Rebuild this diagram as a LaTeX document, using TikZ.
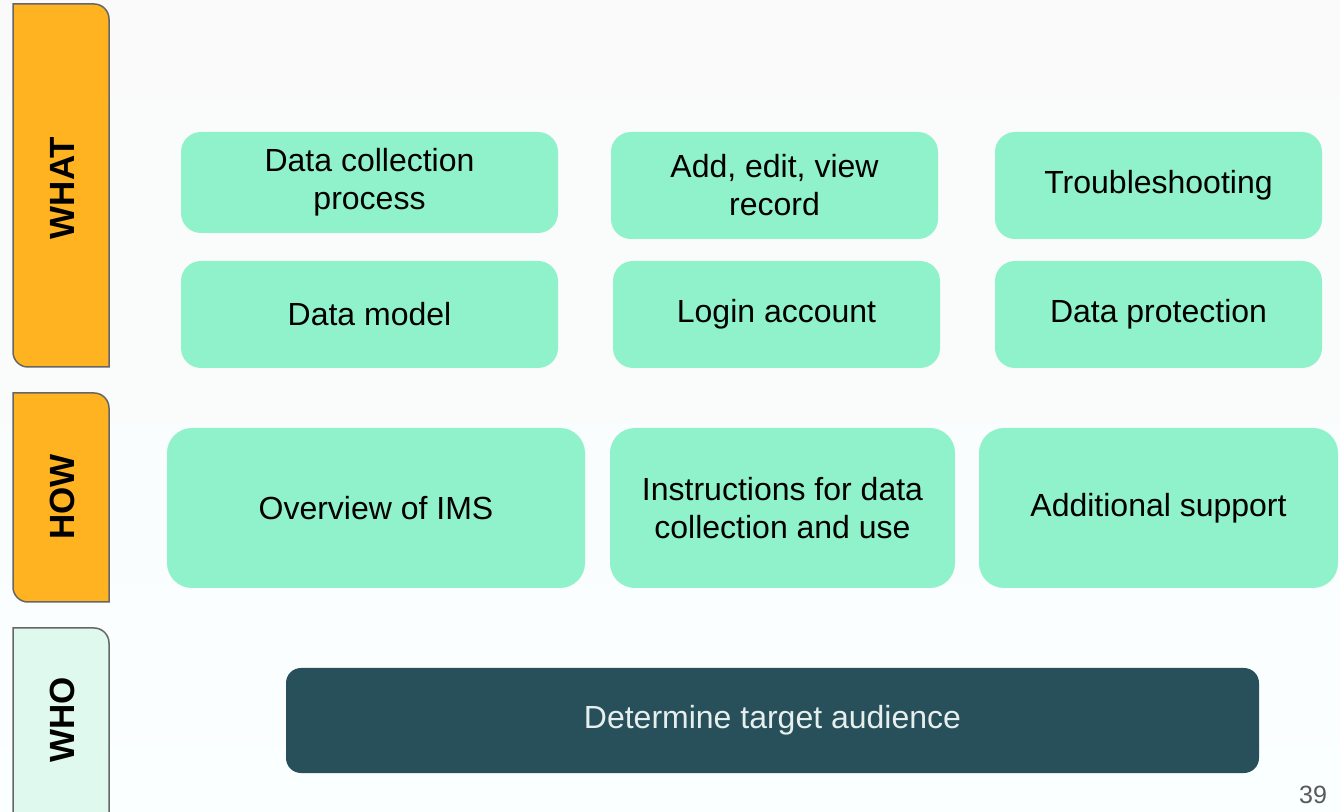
\documentclass[tikz,border=0pt]{standalone}
\usepackage{fontspec}
\setmainfont{Liberation Sans}
\definecolor{mintbox}{HTML}{8FF2CB}
\definecolor{tabamber}{HTML}{FFB320}
\definecolor{tabmint}{HTML}{DFF9EE}
\definecolor{tabedge}{HTML}{666666}
\definecolor{whoteal}{HTML}{27505A}
\definecolor{whotext}{HTML}{E6EEEE}

\begin{document}
\begin{tikzpicture}[x=1pt,y=1pt,
  topic/.style={fill=mintbox,rounded corners=20pt,align=center,inner sep=0pt,
    font=\fontsize{32}{38}\selectfont},
  tabline/.style={draw=tabedge,line width=1.5pt},
  tablabel/.style={rotate=90,font=\bfseries\fontsize{35}{40}\selectfont}]

\shade[top color=white!98!black,bottom color=black!2!cyan!2!white] (0,0) rectangle (1340,811);
\useasboundingbox (0,0) rectangle (1340,811);

\filldraw[tabline,fill=tabamber] (13,807) -- (94,807) arc[start angle=90,end angle=0,radius=15] -- (109,444) -- (28,444) arc[start angle=270,end angle=180,radius=15] -- cycle;
\filldraw[tabline,fill=tabamber] (13,418) -- (94,418) arc[start angle=90,end angle=0,radius=15] -- (109,209) -- (28,209) arc[start angle=270,end angle=180,radius=15] -- cycle;
\filldraw[tabline,fill=tabmint] (13,183) -- (94,183) arc[start angle=90,end angle=0,radius=15] -- (109,-20) -- (28,-20) arc[start angle=270,end angle=180,radius=15] -- cycle;

\node[tablabel] (what) at (62,623) {WHAT};
\node[tablabel] (how) at (62,314) {HOW};
\node[tablabel] (who) at (62,91) {WHO};

\node[topic,minimum width=377,minimum height=101] (process) at (369.5,628.5) {Data collection\\process};
\node[topic,minimum width=327,minimum height=107] (record) at (774.5,625.5) {Add, edit, view\\record};
\node[topic,minimum width=327,minimum height=107] (trouble) at (1158.5,625.5) {Troubleshooting};

\node[topic,minimum width=377,minimum height=107] (model) at (369.5,496.5) {Data model};
\node[topic,minimum width=327,minimum height=107] (login) at (776.5,496.5) {Login account};
\node[topic,minimum width=327,minimum height=107] (protect) at (1158.5,496.5) {Data protection};

\node[topic,rounded corners=25pt,minimum width=418,minimum height=160] (overview) at (376,303) {Overview of IMS};
\node[topic,rounded corners=25pt,minimum width=345,minimum height=160] (instruct) at (782.5,303) {Instructions for data\\collection and use};
\node[topic,rounded corners=25pt,minimum width=359,minimum height=160] (support) at (1158.5,303) {Additional support};

\node[topic,fill=whoteal,text=whotext,rounded corners=15pt,minimum width=973,minimum height=105] (audience) at (772.5,90.5) {Determine target audience};

\node[text=black!65,font=\fontsize{25}{30}\selectfont] (page) at (1313,16) {39};
\end{tikzpicture}
\end{document}
